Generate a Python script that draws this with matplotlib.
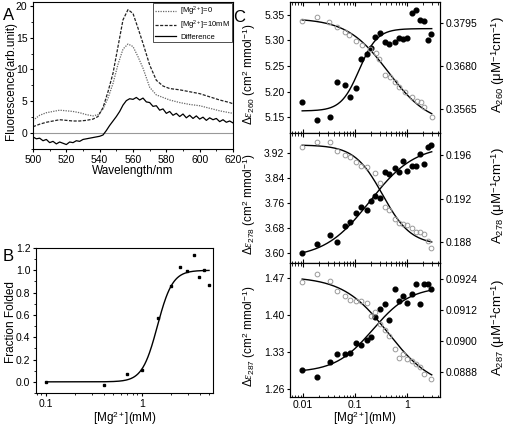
import numpy as np
import matplotlib
matplotlib.use('Agg')
import matplotlib.pyplot as plt
from matplotlib.ticker import MultipleLocator, FixedLocator, FormatStrFormatter, LogLocator, NullFormatter

plt.rcParams['font.family'] = ['Liberation Sans', 'DejaVu Sans']
plt.rcParams['mathtext.fontset'] = 'custom'
plt.rcParams['mathtext.rm'] = 'Liberation Sans'
plt.rcParams['mathtext.it'] = 'Liberation Serif:italic'
plt.rcParams['axes.linewidth'] = 0.8
plt.rcParams['xtick.major.pad'] = 1.5
plt.rcParams['ytick.major.pad'] = 1.5

# ---- panel A: fluorescence spectra
wl_spec = [500, 504, 508, 512, 516, 520, 524, 528, 532, 536, 539, 542, 545, 548, 551,
           554, 557, 560, 563, 566, 570, 574, 578, 582, 588, 594, 600, 606, 612, 618, 620]
fl_mg0 = [2.0, 2.8, 3.2, 3.4, 3.6, 3.5, 3.4, 3.2, 2.9, 2.7, 2.9, 3.8, 5.5, 7.8, 10.8,
          13.2, 14.0, 13.6, 12.0, 10.2, 7.2, 6.0, 5.6, 5.2, 4.8, 4.5, 4.3, 3.9, 3.5, 3.2, 3.1]
fl_mg10 = [1.0, 1.4, 1.7, 1.9, 2.1, 2.0, 1.9, 1.9, 2.0, 2.2, 2.6, 4.0, 6.5, 9.4, 13.6,
           17.8, 19.4, 18.8, 16.5, 14.1, 10.7, 8.3, 7.4, 7.0, 6.8, 6.5, 6.2, 5.7, 5.2, 4.8, 4.6]
wl_diff = list(range(500, 621, 2))
fl_diff = [-0.6, -0.9, -0.8, -1.2, -1.0, -1.5, -1.3, -1.7, -1.4, -1.6, -1.8, -1.4, -1.5, -1.2,
           -1.3, -1.0, -0.9, -0.8, -0.7, -0.6, -0.5, -0.3, 0.4, 1.2, 1.9, 2.6, 3.4, 4.4, 5.1, 5.4,
           5.3, 5.6, 5.2, 5.5, 4.9, 4.8, 4.2, 4.3, 3.6, 3.8, 3.1, 3.4, 2.8, 3.1, 2.6, 3.0, 2.4,
           2.8, 2.3, 2.7, 2.2, 2.5, 2.0, 2.4, 2.1, 2.3, 1.8, 2.1, 1.7, 1.9, 1.6]

# ---- panel B: fraction folded
mg_b = [0.1, 0.40, 0.70, 1.0, 1.47, 2.0, 2.49, 2.95, 3.47, 3.95, 4.47, 5.0]
frac_b = [0.0, -0.03, 0.07, 0.11, 0.57, 0.86, 1.03, 0.99, 1.14, 0.94, 1.0, 0.87]
fit_b = (0.0, 1.0, 1.45, 5.5)  # lo, hi, K, n

# ---- panel C: absorbance titrations
mg_c = [0.0096, 0.0189, 0.0326, 0.0457, 0.0632, 0.080, 0.106, 0.132, 0.170, 0.200, 0.246, 0.298,
        0.372, 0.457, 0.579, 0.702, 0.849, 1.01, 1.25, 1.49, 1.78, 2.09, 2.54, 2.94]

eps260 = [5.179, 5.144, 5.151, 5.219, 5.213, 5.189, 5.206, 5.264, 5.273, 5.285, 5.306, 5.314,
          5.297, 5.293, 5.296, 5.305, 5.302, 5.304, 5.353, 5.360, 5.340, 5.338, 5.301, 5.313]
mg_a260 = [0.0094, 0.0189, 0.0321, 0.0457, 0.0642, 0.0778, 0.1045, 0.134, 0.194, 0.253, 0.294,
           0.378, 0.471, 0.587, 0.712, 0.916, 1.23, 1.53, 1.83, 2.12, 2.98]
a260 = [0.38020, 0.38110, 0.37993, 0.37859, 0.37725, 0.37637, 0.37485, 0.37370, 0.37255, 0.37164,
        0.36995, 0.36567, 0.36522, 0.36388, 0.36254, 0.36121, 0.35971, 0.35872, 0.35853, 0.35719,
        0.35452]

eps278 = [3.602, 3.630, 3.657, 3.636, 3.687, 3.698, 3.727, 3.746, 3.737, 3.767, 3.783, 3.776,
          3.859, 3.851, 3.872, 3.857, 3.894, 3.862, 3.878, 3.877, 3.914, 3.883, 3.937, 3.944]
mg_a278 = [0.0096, 0.0189, 0.0326, 0.0457, 0.0632, 0.079, 0.106, 0.132, 0.170, 0.246, 0.298,
           0.372, 0.457, 0.579, 0.702, 0.849, 1.01, 1.25, 1.49, 1.78, 2.09, 2.54, 2.94]
a278 = [0.19676, 0.19722, 0.19716, 0.19639, 0.19600, 0.19584, 0.19539, 0.19499, 0.19487, 0.19432,
        0.19346, 0.19127, 0.19097, 0.19011, 0.18975, 0.18966, 0.18959, 0.18935, 0.18898, 0.18892,
        0.18874, 0.18813, 0.18746]

eps287 = [1.296, 1.283, 1.312, 1.327, 1.327, 1.329, 1.347, 1.343, 1.353, 1.359, 1.397, 1.412,
          1.421, 1.392, 1.450, 1.428, 1.436, 1.424, 1.441, 1.460, 1.421, 1.460, 1.459, 1.450]
mg_a287 = [0.0096, 0.0189, 0.0326, 0.0457, 0.0632, 0.080, 0.106, 0.132, 0.170, 0.200, 0.246,
           0.298, 0.372, 0.457, 0.579, 0.702, 0.849, 1.01, 1.25, 1.49, 1.78, 2.09, 2.94]
a287 = [0.09230, 0.09259, 0.09233, 0.09195, 0.09172, 0.09159, 0.09156, 0.09153, 0.09146, 0.09095,
        0.09110, 0.09063, 0.09043, 0.09020, 0.08969, 0.08934, 0.08947, 0.08928, 0.08921, 0.08908,
        0.08896, 0.08870, 0.08851]

# Hill fit parameters (lo, hi, K, n)
fit_eps260 = (5.162, 5.323, 0.12, 2.5)
fit_a260 = (0.38084, 0.35230, 0.43, 1.1)
fit_eps278 = (3.584, 3.944, 0.19, 1.0)
fit_a278 = (0.19692, 0.18776, 0.34, 1.6)
fit_eps287 = (1.2915, 1.4546, 0.22, 1.2)
fit_a287 = (0.09249, 0.08812, 0.43, 1.0)


def hill(x, lo, hi, k, n):
    return lo + (hi - lo) * x ** n / (k ** n + x ** n)


W, H = 512, 426
fig = plt.figure(figsize=(W / 100, H / 100), dpi=100)


def box(l, t, r, b):
    return [l / W, 1 - b / H, (r - l) / W, (b - t) / H]


# ---------- A
axA = fig.add_axes(box(33, 2, 233, 149))
axA.axhline(0, color='#999999', lw=0.8)
axA.plot(wl_spec, fl_mg0, color='#666666', ls=(0, (1, 1)), lw=0.9, label='[Mg$^{2+}$]=0')
axA.plot(wl_spec, fl_mg10, color='#222222', ls=(0, (2.5, 1.2)), lw=0.9, label='[Mg$^{2+}$]=10mM')
axA.plot(wl_diff, fl_diff, color='black', lw=0.9, label='Difference')
axA.set_xlim(500, 620)
axA.set_ylim(-2.5, 20.6)
axA.xaxis.set_major_locator(MultipleLocator(20))
axA.xaxis.set_minor_locator(MultipleLocator(10))
axA.yaxis.set_major_locator(MultipleLocator(5))
axA.yaxis.set_minor_locator(MultipleLocator(2.5))
axA.tick_params(labelsize=7.5, length=2.5)
axA.tick_params(which='minor', length=1.5)
axA.set_xlabel('Wavelength/nm', fontsize=8.5, labelpad=0.5)
axA.set_ylabel('Fluorescence(arb.unit)', fontsize=8.5)
axA.yaxis.set_label_coords(-0.08, 0.46)
leg = axA.legend(loc='upper right', fontsize=5.5, fancybox=False, edgecolor='black',
                 handlelength=2.8, borderpad=0.25, labelspacing=0.1, borderaxespad=0.15,
                 handletextpad=0.5)
leg.get_frame().set_linewidth(0.6)

# ---------- B
axB = fig.add_axes(box(36, 248, 213, 393))
xb = np.logspace(-1, np.log10(5.0), 300)
axB.plot(xb, hill(xb, *fit_b), color='black', lw=1.0)
axB.plot(mg_b, frac_b, 's', color='black', ms=2.0)
axB.set_xscale('log')
axB.set_xlim(0.079, 5.5)
axB.set_ylim(-0.1, 1.2)
axB.xaxis.set_major_locator(FixedLocator([0.1, 1]))
axB.xaxis.set_major_formatter(FormatStrFormatter('%g'))
axB.xaxis.set_minor_locator(LogLocator(base=10, subs=np.arange(2, 10)))
axB.xaxis.set_minor_formatter(NullFormatter())
axB.yaxis.set_major_locator(MultipleLocator(0.2))
axB.yaxis.set_minor_locator(MultipleLocator(0.1))
axB.yaxis.set_major_formatter(FormatStrFormatter('%.1f'))
axB.tick_params(labelsize=7.5, length=2.5)
axB.tick_params(which='minor', length=1.5)
axB.set_xlabel('[Mg$^{2+}$](mM)', fontsize=8.5, labelpad=0.5)
axB.set_ylabel('Fraction Folded', fontsize=8.5)
axB.yaxis.set_label_coords(-0.105, 0.49)

# ---------- C
rows = [
    (2, 133, mg_c, eps260, mg_a260, a260, fit_eps260, fit_a260, (5.119, 5.375), (0.35016, 0.38520),
     [5.15, 5.20, 5.25, 5.30, 5.35], '%.2f', [0.3565, 0.3680, 0.3795], '%.4f', '260'),
    (133, 263, mg_c, eps278, mg_a278, a278, fit_eps278, fit_a278, (3.569, 3.982), (0.18611, 0.19801),
     [3.60, 3.68, 3.76, 3.84, 3.92], '%.2f', [0.188, 0.192, 0.196], '%.3f', '278'),
    (263, 397, mg_c, eps287, mg_a287, a287, fit_eps287, fit_a287, (1.245, 1.4992), (0.08781, 0.09302),
     [1.26, 1.33, 1.40, 1.47], '%.2f', [0.0888, 0.0900, 0.0912, 0.0924], '%.4f', '287'),
]
xc = np.logspace(np.log10(0.0096), np.log10(2.98), 300)
for i, (top, bot, xe, ye, xa, ya, fe, fa, yl, yr, lt, lf, rt, rf, wl) in enumerate(rows):
    ax = fig.add_axes(box(290, top, 440, bot))
    ax2 = ax.twinx()
    ax.plot(xc, hill(xc, *fe), color='black', lw=1.0)
    ax.plot(xe, ye, 'o', color='black', ms=3.4)
    ax2.plot(xc, hill(xc, *fa), color='black', lw=1.0)
    ax2.plot(xa, ya, 'o', mfc='none', mec='#999999', mew=0.7, ms=3.4)
    ax.set_xscale('log')
    ax.set_xlim(0.0056, 4.3)
    ax.set_ylim(*yl)
    ax2.set_ylim(*yr)
    ax.xaxis.set_major_locator(FixedLocator([0.01, 0.1, 1]))
    ax.xaxis.set_major_formatter(FormatStrFormatter('%g'))
    ax.xaxis.set_minor_locator(LogLocator(base=10, subs=np.arange(2, 10)))
    ax.xaxis.set_minor_formatter(NullFormatter())
    ax.yaxis.set_major_locator(FixedLocator(lt))
    ax.yaxis.set_major_formatter(FormatStrFormatter(lf))
    ax2.yaxis.set_major_locator(FixedLocator(rt))
    ax2.yaxis.set_major_formatter(FormatStrFormatter(rf))
    ax.tick_params(axis='y', labelsize=7.5, length=2.5)
    ax2.tick_params(axis='y', labelsize=7.5, length=2.5)
    ax.tick_params(axis='x', which='both', top=True, direction='in', labelsize=7.5)
    ax.tick_params(axis='x', which='major', length=3)
    ax.tick_params(axis='x', which='minor', length=1.8)
    if i < 2:
        ax.tick_params(axis='x', labelbottom=False)
    else:
        ax.tick_params(axis='x', pad=2)
        ax.set_xlabel('[Mg$^{2+}$](mM)', fontsize=8.5, labelpad=0)
    ax.set_ylabel(r'$\Delta\varepsilon_{%s}$ (cm$^{2}$ mmol$^{-1}$)' % wl, fontsize=8.5)
    ax.yaxis.set_label_coords(-0.215, 0.45)
    ax2.set_ylabel('A$_{%s}$ (μM$^{-1}$cm$^{-1}$)' % wl, fontsize=9.5)
    ax2.yaxis.set_label_coords(1.333, 0.52)

fig.text(3 / W, 1 - 20 / H, 'A', fontsize=12)
fig.text(3 / W, 1 - 261 / H, 'B', fontsize=12)
fig.text(233 / W, 1 - 22 / H, 'C', fontsize=12)

fig.savefig('out.png', dpi=100)
